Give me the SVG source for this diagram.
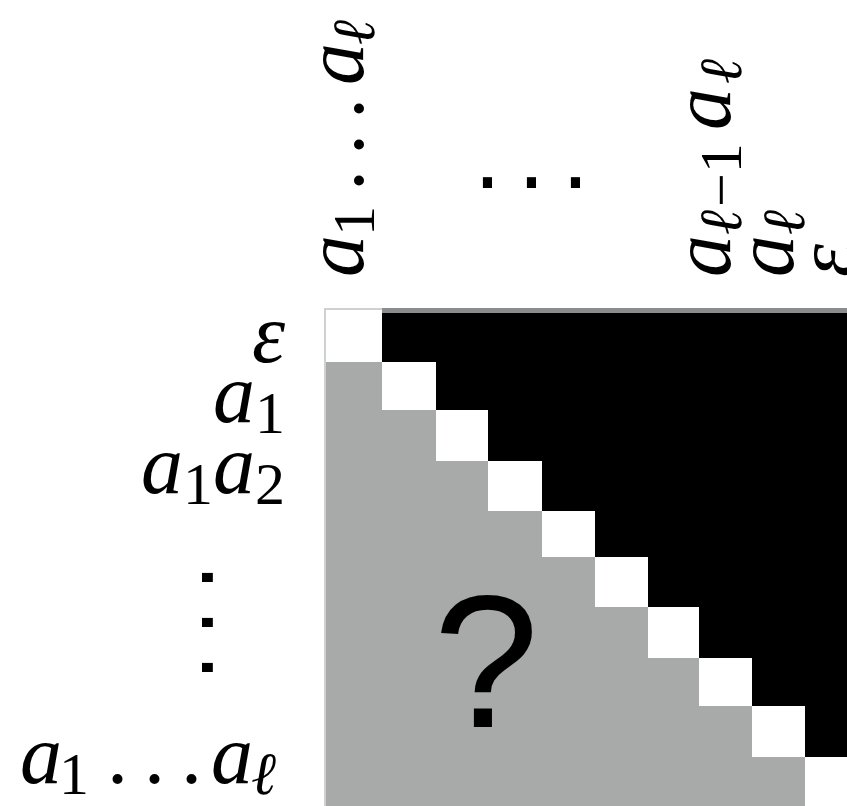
<svg xmlns="http://www.w3.org/2000/svg" width="847" height="806" viewBox="0 0 847 806">
<style>
.m{font-family:"Liberation Serif","DejaVu Serif",serif;font-size:84px;font-style:italic;fill:#000}
.s{font-size:60px}
.r{font-style:normal}
.dots{font-family:"DejaVu Sans",sans-serif;font-size:88px;fill:#000}
.q{font-family:"Liberation Sans",Arial,sans-serif;font-size:190px;fill:#000}
</style>
<rect width="847" height="806" fill="#fff"/>
<g id="matrix">
<polygon id="lower" fill="#a7aaa9" points="326,362 382,362 382,410 436,410 436,461 488,461 488,511 542,511 542,557 595,557 595,607 648,607 648,658 699,658 699,706 752,706 752,757 805,757 805,806 326,806"/>
<polygon id="upper" fill="#000" points="382,313 847,313 847,757 805,757 805,706 752,706 752,658 699,658 699,607 648,607 648,557 595,557 595,511 542,511 542,461 488,461 488,410 436,410 436,362 382,362"/>
<g id="diagonal" fill="#fff">
<rect x="326" y="310" width="56" height="52"/>
<rect x="382" y="362" width="54" height="48"/>
<rect x="436" y="410" width="52" height="51"/>
<rect x="488" y="461" width="54" height="50"/>
<rect x="542" y="511" width="53" height="46"/>
<rect x="595" y="557" width="53" height="50"/>
<rect x="648" y="607" width="51" height="51"/>
<rect x="699" y="658" width="53" height="48"/>
<rect x="752" y="706" width="53" height="51"/>
<rect x="805" y="757" width="42" height="49"/>
</g>
<rect x="382" y="308" width="465" height="5" fill="#8a8c8e"/>
<rect x="324" y="308" width="58" height="2" fill="#cfd1d1"/>
<rect x="324" y="308" width="2" height="498" fill="#cfd1d1"/>
<text class="q" x="486" y="727" text-anchor="middle">?</text>
</g>
<g id="row-labels">
<text class="m" x="285" y="362" text-anchor="end">ε</text>
<text class="m" x="285" y="422" text-anchor="end">a<tspan class="s r" dy="11">1</tspan></text>
<text class="m" x="285" y="493" text-anchor="end">a<tspan class="s r" dy="11">1</tspan><tspan dy="-11">a</tspan><tspan class="s r" dy="11">2</tspan></text>
<text class="dots" transform="translate(202,563.6) rotate(90)" letter-spacing="17">...</text>
<text class="m" y="783"><tspan x="20">a</tspan><tspan class="s r" x="59" dy="11">1</tspan><tspan class="r" x="107" dy="-11">.</tspan><tspan class="r" x="144">.</tspan><tspan class="r" x="181">.</tspan><tspan x="211">a</tspan><tspan class="s" x="251" dy="11">ℓ</tspan></text>
</g>
<g id="col-labels">
<text class="m" transform="translate(363,277) rotate(-90)"><tspan x="0">a</tspan><tspan class="s r" x="41" dy="11">1</tspan><tspan class="r" x="86" dy="-11">.</tspan><tspan class="r" x="122">.</tspan><tspan class="r" x="158">.</tspan><tspan x="192">a</tspan><tspan class="s" x="232" dy="11">ℓ</tspan></text>
<text class="dots" x="473.6" y="188" letter-spacing="16">...</text>
<text class="m" transform="translate(730,277) rotate(-90)"><tspan x="0">a</tspan><tspan class="s" x="42" dy="11">ℓ</tspan><tspan class="s r" x="70">−1</tspan><tspan x="147" dy="-11">a</tspan><tspan class="s" x="193" dy="11">ℓ</tspan></text>
<text class="m" transform="translate(793,277) rotate(-90)"><tspan x="0">a</tspan><tspan class="s" x="42" dy="11">ℓ</tspan></text>
<text class="m" transform="translate(854,277) rotate(-90)">ε</text>
</g>
</svg>
